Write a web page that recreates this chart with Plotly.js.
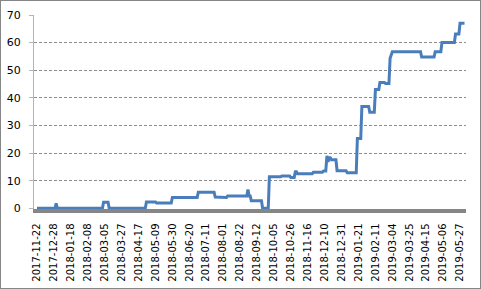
<!DOCTYPE html>
<html>
<head>
<meta charset="utf-8">
<script src="https://cdn.plot.ly/plotly-3.0.1.min.js"></script>
<style>
html,body{margin:0;padding:0;background:#fff;}
#wrap{width:479px;height:287px;border:1px solid #868686;background:#fff;}
</style>
</head>
<body>
<div id="wrap"><div id="chart"></div></div>
<script>
// Category (trading day) index where the series changes, and the value from there on
const stepStart = [0, 17, 18, 59, 64, 97, 106, 120, 143, 158, 163, 169, 187, 188, 190, 200, 206, 217, 225, 229, 231, 245, 254, 257, 258, 259, 261, 266, 275, 284, 288, 295, 300, 304, 309, 313, 314, 315, 341, 353, 359, 371, 375];
const stepValue = [0, 1.8, 0, 2.2, 0, 2.3, 1.9, 3.9, 5.8, 4.1, 3.9, 4.5, 6.8, 4.5, 2.7, 0, 11.4, 11.7, 11.2, 13.2, 12.5, 13.1, 13.5, 19.0, 16.8, 18.3, 17.6, 13.6, 12.9, 25.3, 36.9, 34.8, 43.0, 45.6, 45.2, 54.3, 56.0, 56.7, 54.8, 56.7, 60.0, 63.1, 67.0];
const categoryCount = 380;

// Tick labels (every 15th category)
const tickIndex = [0, 15, 30, 45, 60, 75, 90, 105, 120, 135, 150, 165, 180, 195, 210, 225, 240, 255, 270, 285, 300, 315, 330, 345, 360, 375];
const tickLabels = ["2017-11-22", "2017-12-28", "2018-01-18", "2018-02-08", "2018-03-05", "2018-03-27", "2018-04-17", "2018-05-09", "2018-05-30", "2018-06-20", "2018-07-11", "2018-08-01", "2018-08-22", "2018-09-12", "2018-10-05", "2018-10-26", "2018-11-16", "2018-12-10", "2018-12-31", "2019-01-21", "2019-02-11", "2019-03-04", "2019-03-25", "2019-04-15", "2019-05-06", "2019-05-27"];

const yTicks = [0, 10, 20, 30, 40, 50, 60, 70];

// Expand the step runs to one value per category
const xs = [], ys = [];
let s = 0;
for (let i = 0; i < categoryCount; i++) {
  while (s + 1 < stepStart.length && stepStart[s + 1] <= i) s++;
  xs.push(i);
  ys.push(stepValue[s]);
}

const trace = {
  type: 'scatter', mode: 'lines', x: xs, y: ys,
  line: {color: '#4a7ebb', width: 3},
  hoverinfo: 'skip'
};

const layout = {
  width: 479, height: 287,
  margin: {l: 33, r: 14, t: 14, b: 79, pad: 0},
  paper_bgcolor: '#fff', plot_bgcolor: '#fff',
  showlegend: false,
  xaxis: {
    range: [-2.66, 380.3],
    tickmode: 'array', tickvals: tickIndex, ticktext: tickLabels,
    tickangle: -90,
    tickfont: {family: 'DejaVu Sans', size: 10, color: '#000'},
    showgrid: false, zeroline: false,
    showline: true, linecolor: '#868686', linewidth: 3.5,
    ticks: '', ticklabelstandoff: 7
  },
  yaxis: {
    range: [-0.25, 70],
    tickmode: 'array', tickvals: yTicks,
    tickfont: {family: 'DejaVu Sans', size: 11, color: '#000'},
    showgrid: true, gridcolor: '#8c8c8c', gridwidth: 1, griddash: '3px,2px',
    zeroline: true, zerolinecolor: '#868686', zerolinewidth: 1.5,
    showline: true, linecolor: '#b4b4b4', linewidth: 1,
    ticks: 'outside', ticklen: 4, tickcolor: '#b4b4b4',
    ticklabelstandoff: 6
  }
};

Plotly.newPlot('chart', [trace], layout, {staticPlot: true, displayModeBar: false});
</script>
</body>
</html>
